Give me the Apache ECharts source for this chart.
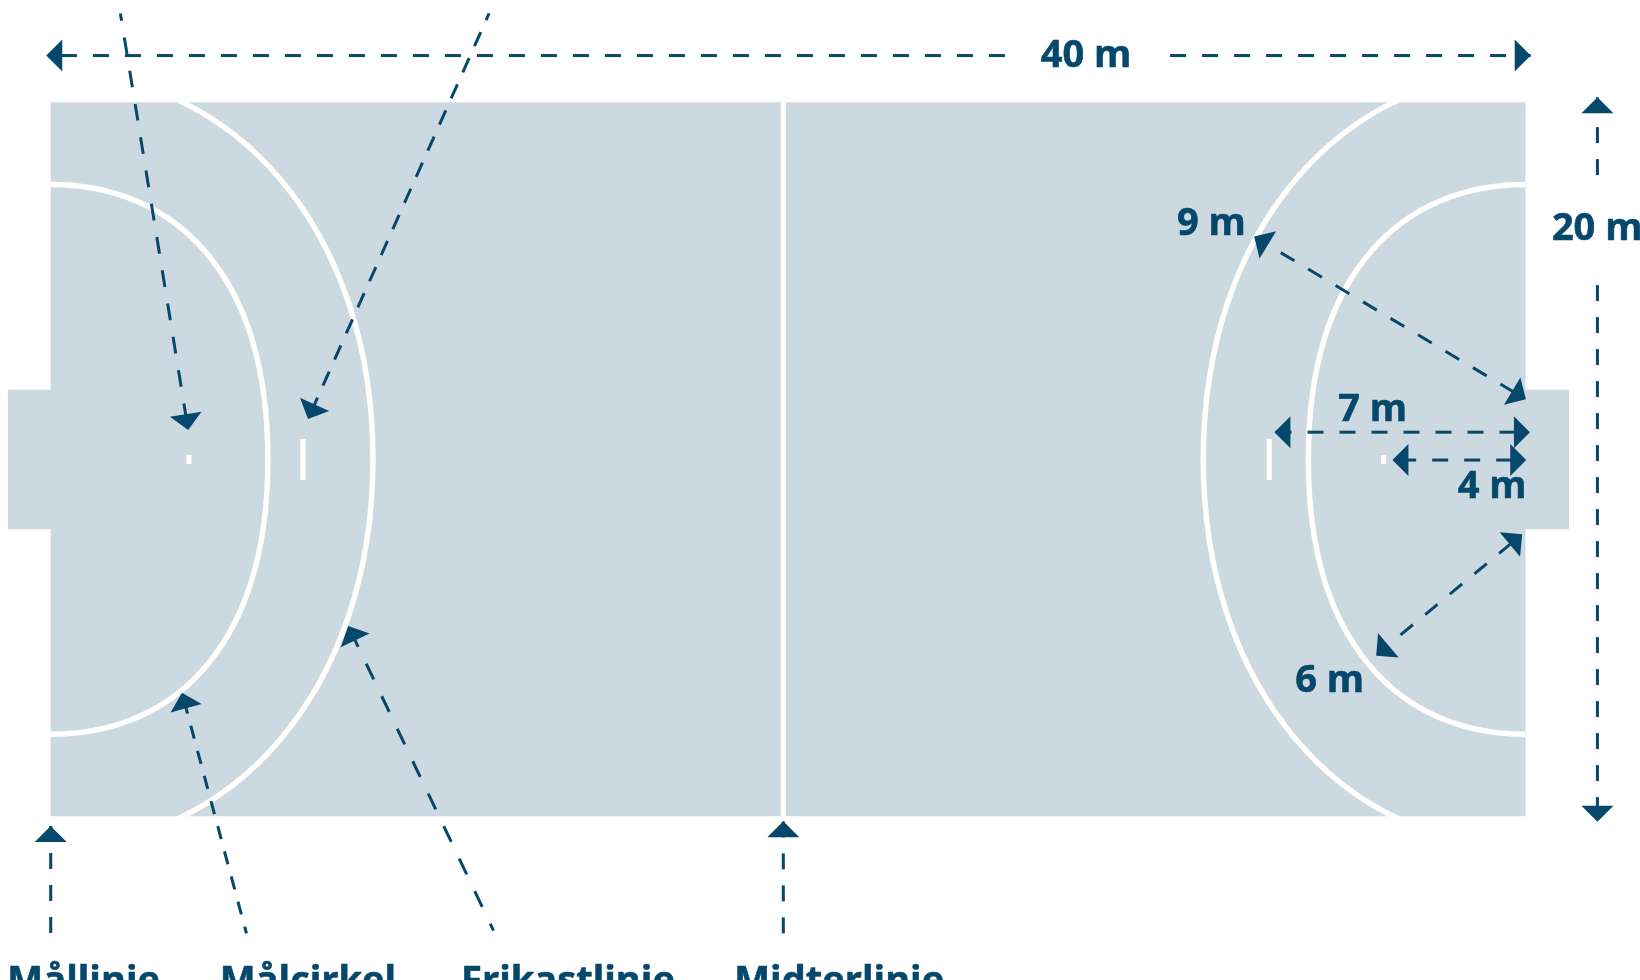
<!DOCTYPE html>
<html><head><meta charset="utf-8">
<style>html,body{margin:0;padding:0;background:#fff;overflow:hidden}#c{width:1640px;height:980px}</style>
<script src="https://cdn.jsdelivr.net/npm/echarts@6/dist/echarts.min.js"></script>
</head><body><div id="c"></div>
<script>
// All values are metres on the court (origin = lower left corner of the 40 x 20 m court)
var courtLength = 40, courtWidth = 20;
var courtAreas = [[0,0,40,20],[-1.16,8.04,0.1,11.95],[39.9,8.04,41.18,11.95]];
var fieldMarks = [[19.80,0,19.94,20],[6.77,9.42,6.91,10.57],[32.98,9.42,33.12,10.57],[3.68,9.87,3.82,10.12],[36.08,9.87,36.22,10.12]];
// Quarter arcs: depth from goal line, offset from court centre line (start, control, control, end)
var goalArcQuarter = [0,7.7, 3.4,7.7, 5.89,5.17, 5.89,0];
var freeArcQuarter = [0,10.85, 5.0,10.85, 8.74,6.4, 8.74,0];
var dashLines = [
 [1.89,22.49,3.73,10.82],[11.89,22.49,6.98,11.13],
 [0,-3.27,0,-0.27],[5.31,-3.28,3.56,3.46],[12.01,-3.20,8.07,5.33],[19.87,-3.28,19.87,-0.14],
 [25.88,21.31,-0.12,21.31],[30.36,21.31,40.14,21.31],
 [41.95,17.96,41.95,20.14],[41.95,14.88,41.95,-0.15],
 [33.36,15.79,40.01,11.68],[33.22,10.76,40.12,10.76],[36.60,9.98,40.02,9.98],[36.61,5.08,39.91,7.90]
];
var dashPatterns = [
 [16.8,16.9,9.3],[15.5,13.1,8.2],
 [16,16,0],[13.4,12.6,6.4],[17.4,18.6,9.8],[16,16,0],
 [16,16,0],[16,16,0],[16,16,0],[16,16,0],[16,16,0],[16,16,0],[16,16,0],[16,16,0]
];
var arrowHeads = [ // tip x, tip y, point behind x, y
 [3.73,10.82,1.89,22.49],[6.98,11.13,11.89,22.49],
 [0,-0.27,0,-3.27],[3.56,3.46,5.31,-3.28],[8.07,5.33,12.01,-3.20],[19.87,-0.14,19.87,-3.28],
 [-0.12,21.31,25.88,21.31],[40.14,21.31,30.36,21.31],
 [41.95,20.14,41.95,17.96],[41.95,-0.15,41.95,14.88],
 [40.01,11.68,33.36,15.79],[32.64,16.24,33.36,15.79],
 [33.19,10.76,40.12,10.76],[40.12,10.76,33.22,10.76],
 [36.39,9.98,40.02,9.98],[40.02,9.98,36.60,9.98],
 [39.91,7.90,36.61,5.08],[35.95,4.50,36.61,5.08]
];
var labelTexts = ['40 m','20 m','9 m','7 m','4 m','6 m','Mållinje','Målcirkel','Frikastlinje','Midterlinje'];
var labelX = [26.85,40.715,30.545,34.92,38.16,33.755,-1.175,4.585,11.13,18.54];
var labelY = [21.30,16.455,16.595,11.385,9.225,3.785,-4.64,-4.64,-4.64,-4.64];

var NAVY = '#06486c', COURT = '#cdd9e1', FONT = 'bold 38px "Open Sans", "Noto Sans", sans-serif';

function mirrored(q) {
  var rows = [];
  [false,true].forEach(function(right){
    [1,-1].forEach(function(sign){
      var r = [];
      for (var i = 0; i < q.length; i += 2) {
        r.push(right ? courtLength - q[i] : q[i]);
        r.push(courtWidth/2 + sign*q[i+1]);
      }
      rows.push(r);
    });
  });
  return rows;
}
var arcRows = mirrored(goalArcQuarter).concat(mirrored(freeArcQuarter));

function rects(data, color, z) {
  return {type:'custom', data:data, z:z, silent:true, animation:false, renderItem:function(p, api){
    var a = api.coord([api.value(0), api.value(1)]), b = api.coord([api.value(2), api.value(3)]);
    return {type:'rect', shape:{x:a[0], y:b[1], width:b[0]-a[0], height:a[1]-b[1]}, style:{fill:color}};
  }};
}
var chart = echarts.init(document.getElementById('c'), null, {renderer:'canvas', width:1640, height:980});
chart.setOption({
  animation:false, backgroundColor:'#fff', tooltip:{show:false},
  grid:{left:0, right:0, top:0, bottom:0},
  xAxis:{type:'value', min:-1.375, max:43.105, show:false},
  yAxis:{type:'value', min:-4.585, max:22.866, show:false},
  series:[
    rects(courtAreas, COURT, 1),
    {type:'custom', data:arcRows, z:3, silent:true, animation:false, renderItem:function(p, api){
      var a = api.coord([api.value(0), api.value(1)]), b = api.coord([api.value(2), api.value(3)]),
          c = api.coord([api.value(4), api.value(5)]), d = api.coord([api.value(6), api.value(7)]);
      return {type:'bezierCurve', shape:{x1:a[0],y1:a[1],cpx1:b[0],cpy1:b[1],cpx2:c[0],cpy2:c[1],x2:d[0],y2:d[1]},
              style:{stroke:'#fff', lineWidth:5.4, fill:null}};
    }},
    rects(fieldMarks, '#fff', 4),
    {type:'custom', data:dashLines, z:5, silent:true, animation:false, renderItem:function(p, api){
      var a = api.coord([api.value(0), api.value(1)]), b = api.coord([api.value(2), api.value(3)]);
      var d = dashPatterns[p.dataIndex];
      return {type:'line', shape:{x1:a[0], y1:a[1], x2:b[0], y2:b[1]},
              style:{stroke:NAVY, lineWidth:3, lineDash:[d[0],d[1]], lineDashOffset:d[2], fill:null}};
    }},
    {type:'custom', data:arrowHeads, z:6, silent:true, animation:false, renderItem:function(p, api){
      var t = api.coord([api.value(0), api.value(1)]), b = api.coord([api.value(2), api.value(3)]);
      var dx = t[0]-b[0], dy = t[1]-b[1], n = Math.sqrt(dx*dx+dy*dy); dx/=n; dy/=n;
      var cx = t[0]-dx*16, cy = t[1]-dy*16;
      return {type:'polygon', shape:{points:[t,[cx-dy*16,cy+dx*16],[cx+dy*16,cy-dx*16]]}, style:{fill:NAVY}};
    }},
    {type:'custom', data:labelX.map(function(x,i){return [x,labelY[i]];}), z:7, silent:true, animation:false,
     renderItem:function(p, api){
      var a = api.coord([api.value(0), api.value(1)]);
      return {type:'text', style:{text:labelTexts[p.dataIndex], x:a[0], y:a[1], font:FONT, fill:NAVY,
              stroke:NAVY, lineWidth:0.6, textAlign:'left', textVerticalAlign:'middle'}};
    }}
  ]
});
</script></body></html>
